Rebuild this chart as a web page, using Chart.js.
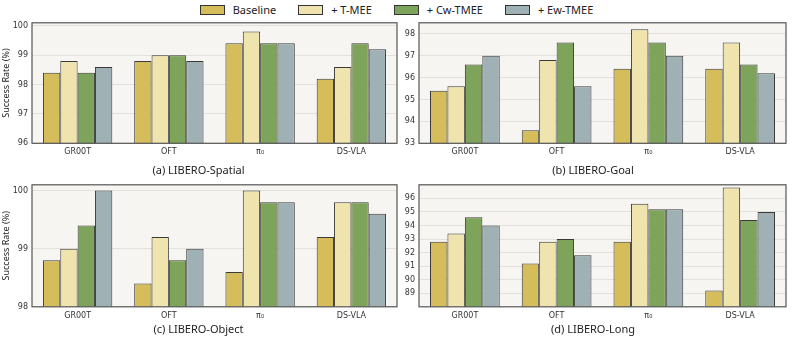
<!DOCTYPE html>
<html>
<head>
<meta charset="utf-8">
<script src="https://cdn.jsdelivr.net/npm/chart.js@4.4.1/dist/chart.umd.min.js"></script>
<style>
  body { margin: 0; background: #fff; width: 793px; height: 338px; position: relative; overflow: hidden; font-family: "Noto Sans", sans-serif; }
  .panel { position: absolute; }
  #legend { position: absolute; top: 2px; left: 0; width: 793px; display: flex; justify-content: center; gap: 22px; font-size: 11px; color: #222; }
  #legend .item { display: flex; align-items: center; gap: 8px; }
  #legend .box { width: 23px; height: 8px; border: 1px solid #333; }
</style>
</head>
<body>
<div id="legend"></div>
<div class="panel" style="left:0;top:14px;width:400px;height:166px"><canvas id="cA"></canvas></div>
<div class="panel" style="left:400px;top:14px;width:393px;height:166px"><canvas id="cB"></canvas></div>
<div class="panel" style="left:0;top:176px;width:400px;height:162px"><canvas id="cC"></canvas></div>
<div class="panel" style="left:400px;top:176px;width:393px;height:162px"><canvas id="cD"></canvas></div>
<script>
// --- data ---
const models = ['GR00T', 'OFT', 'π₀', 'DS-VLA'];
const methods = ['Baseline', '+ T-MEE', '+ Cw-TMEE', '+ Ew-TMEE'];
const colors = ['#d5bd5c', '#f0e4ae', '#7ea35a', '#a0b1b5'];

// one row per method, one value per model
const spatial = [
  [98.4, 98.8, 99.4, 98.2],
  [98.8, 99.0, 99.8, 98.6],
  [98.4, 99.0, 99.4, 99.4],
  [98.6, 98.8, 99.4, 99.2]
];
const goal = [
  [95.4, 93.6, 96.4, 96.4],
  [95.6, 96.8, 98.2, 97.6],
  [96.6, 97.6, 97.6, 96.6],
  [97.0, 95.6, 97.0, 96.2]
];
const object = [
  [98.8, 98.4, 98.6, 99.2],
  [99.0, 99.2, 100.0, 99.8],
  [99.4, 98.8, 99.8, 99.8],
  [100.0, 99.0, 99.8, 99.6]
];
const longSuite = [
  [92.8, 91.2, 92.8, 89.2],
  [93.4, 92.8, 95.6, 96.8],
  [94.6, 93.0, 95.2, 94.4],
  [94.0, 91.8, 95.2, 95.0]
];

const spatialTicks = [96, 97, 98, 99, 100];
const goalTicks = [93, 94, 95, 96, 97, 98];
const objectTicks = [98, 99, 100];
const longTicks = [89, 90, 91, 92, 93, 94, 95, 96];

// --- legend ---
const legend = document.getElementById('legend');
methods.forEach((m, i) => {
  const it = document.createElement('div');
  it.className = 'item';
  it.innerHTML = '<span class="box" style="background:' + colors[i] + '"></span><span>' + m + '</span>';
  legend.appendChild(it);
});

// background + frame
const framePlugin = {
  id: 'frame',
  beforeDraw(chart) {
    const a = chart.chartArea, ctx = chart.ctx;
    ctx.save();
    ctx.fillStyle = '#f6f5f1';
    ctx.fillRect(a.left, a.top, a.right - a.left, a.bottom - a.top);
    ctx.restore();
  },
  afterDraw(chart) {
    const a = chart.chartArea, ctx = chart.ctx;
    ctx.save();
    ctx.strokeStyle = '#555';
    ctx.lineWidth = 1.2;
    ctx.strokeRect(a.left, a.top, a.right - a.left, a.bottom - a.top);
    ctx.restore();
  }
};

function makeChart(id, rows, ticks, min, max, title, yTitle, yWidth, pad, xH) {
  new Chart(document.getElementById(id), {
    type: 'bar',
    data: {
      labels: models,
      datasets: rows.map((vals, i) => ({
        label: methods[i],
        data: vals,
        backgroundColor: colors[i],
        borderColor: 'rgba(25,25,25,0.85)',
        borderWidth: 1,
        categoryPercentage: 0.76,
        barPercentage: 1.0
      }))
    },
    options: {
      responsive: true,
      maintainAspectRatio: false,
      animation: false,
      layout: { padding: pad },
      plugins: {
        legend: { display: false },
        tooltip: { enabled: false },
        title: {
          display: true, position: 'bottom', text: title, color: '#222',
          font: { family: 'Noto Sans', size: 11, weight: 'normal' },
          padding: { top: 2, bottom: 2 }
        }
      },
      scales: {
        x: {
          grid: { display: false, drawTicks: false },
          border: { display: false },
          ticks: { color: '#333', font: { family: 'DejaVu Sans', size: 8 }, padding: 4 },
          afterFit(s) { s.height = xH; }
        },
        y: {
          min: min, max: max,
          afterBuildTicks(s) { s.ticks = ticks.map(v => ({ value: v })); },
          grid: { color: '#e2e1dc', lineWidth: 1, drawTicks: false },
          border: { display: false },
          ticks: { color: '#333', font: { family: 'DejaVu Sans', size: 8 }, padding: 4 },
          title: {
            display: !!yTitle, text: yTitle, color: '#222',
            font: { family: 'Noto Sans', size: 9 }, padding: { top: 1, bottom: 0 }
          },
          afterFit(s) { s.width = yWidth; }
        }
      }
    },
    plugins: [framePlugin]
  });
}

makeChart('cA', spatial, spatialTicks, 96, 100.1, '(a) LIBERO-Spatial', 'Success Rate (%)', 32,
  { top: 7, right: 3, bottom: 1, left: 0 }, 18.5);
makeChart('cB', goal, goalTicks, 93, 98.5, '(b) LIBERO-Goal', '', 19,
  { top: 7, right: 7, bottom: 1, left: 0 }, 18.5);
makeChart('cC', object, objectTicks, 98, 100.1, '(c) LIBERO-Object', 'Success Rate (%)', 32,
  { top: 4, right: 3, bottom: 0, left: 0 }, 14);
makeChart('cD', longSuite, longTicks, 88, 97, '(d) LIBERO-Long', '', 19,
  { top: 4, right: 7, bottom: 0, left: 0 }, 14);
</script>
</body>
</html>
